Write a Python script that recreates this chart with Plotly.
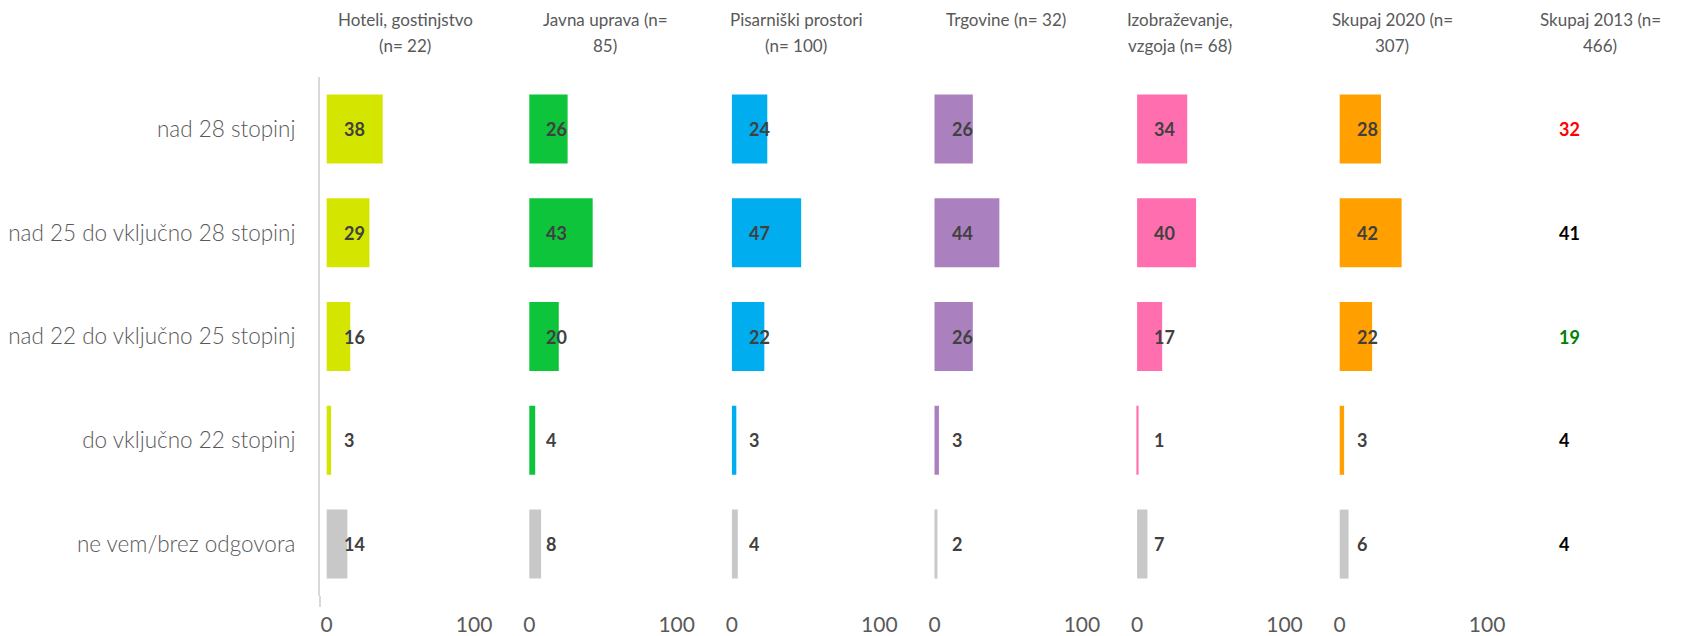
import plotly.graph_objects as go

# ---------------- data ----------------
categories = ["nad 28 stopinj", "nad 25 do vključno 28 stopinj",
              "nad 22 do vključno 25 stopinj", "do vključno 22 stopinj",
              "ne vem/brez odgovora"]

panel_titles = [
    ["Hoteli, gostinjstvo", "(n= 22)"],
    ["Javna uprava (n=", "85)"],
    ["Pisarniški prostori", "(n= 100)"],
    ["Trgovine (n= 32)", ""],
    ["Izobraževanje,", "vzgoja (n= 68)"],
    ["Skupaj 2020 (n=", "307)"],
    ["Skupaj 2013 (n=", "466)"],
]

hoteli = [38, 29, 16, 3, 14]
javna_uprava = [26, 43, 20, 4, 8]
pisarniski = [24, 47, 22, 3, 4]
trgovine = [26, 44, 26, 3, 2]
izobrazevanje = [34, 40, 17, 1, 7]
skupaj_2020 = [28, 42, 22, 3, 6]
skupaj_2013 = [32, 41, 19, 4, 4]

tick_vals = [0, 100]
tick_text = ["0", "100"]

# ---------------- styles ----------------
W, H = 1685, 636
panel_colors = ["#D4E600", "#0DC43B", "#00ADEE", "#AB80BF", "#FF6FAF", "#FF9F00"]
gray = "#C8C8C8"
label_2013_colors = ["#FF0000", "#000000", "#008000", "#000000", "#000000"]
FONT = "Lato, Carlito, Calibri, sans-serif"

series = [hoteli, javna_uprava, pisarniski, trgovine, izobrazevanje, skupaj_2020]

zero0 = 326.7      # px of value 0 in first panel
step = 202.6       # px between panels
ppu = 1.474        # px per unit
left_pad = 6.7     # px between axis line and zero
panel_w = 195.0
title_centers = [405, 605, 796, 1006, 1180, 1392, 1600]

top_px, bot_px = 77, 596
line_bottom_px = 607
ydom = [1 - bot_px / H, 1 - top_px / H]

fig = go.Figure()

for i in range(7):
    ax = "" if i == 0 else str(i + 1)
    left = zero0 + i * step - left_pad
    right = min(left + panel_w, W)
    xmin = -left_pad / ppu
    xmax = xmin + (right - left) / ppu
    if i < 6:
        vals = series[i]
        lab_cols = ["#404040"] * len(vals)
        colors = [panel_colors[i]] * 4 + [gray]
        fig.add_trace(go.Bar(
            x=vals, y=categories, orientation="h",
            marker=dict(color=colors, line=dict(width=0)),
            xaxis="x" + ax, yaxis="y", hoverinfo="x+y", showlegend=False,
        ))
    else:
        vals = skupaj_2013
        lab_cols = label_2013_colors
        # invisible anchor trace so the last panel's axis exists
        fig.add_trace(go.Scatter(
            x=[0] * len(vals), y=categories, mode="markers",
            marker=dict(size=1, opacity=0),
            xaxis="x" + ax, yaxis="y", showlegend=False, hoverinfo="skip",
        ))
    for cat, v, c in zip(categories, vals, lab_cols):
        fig.add_annotation(
            x=0, y=cat, xref="x" + ax, yref="y", text=f"<b>{v}</b>",
            showarrow=False, xanchor="left", yanchor="middle", xshift=15,
            font=dict(family=FONT, size=18, color=c),
        )
    axis = dict(
        domain=[left / W, right / W], range=[xmin, xmax],
        showgrid=False, zeroline=False, showline=False,
        tickvals=tick_vals if i < 6 else [], ticktext=tick_text if i < 6 else [],
        tickfont=dict(family=FONT, size=21, color="#595959"),
        ticklabelstandoff=14, anchor="y", fixedrange=True, automargin=False,
    )
    fig.layout["xaxis" + ax] = axis
    # panel titles
    for li, line in enumerate(panel_titles[i]):
        if line:
            fig.add_annotation(
                x=title_centers[i] / W, y=1 - (19.5 + li * 25.5) / H,
                xref="paper", yref="paper", text=line, showarrow=False,
                xanchor="center", yanchor="middle",
                font=dict(family=FONT, size=17, color="#595959"),
            )

# small extension of the vertical axis line below the last row (as in the original)
fig.add_shape(type="line", xref="paper", yref="paper",
              x0=(zero0 - left_pad) / W, x1=(zero0 - left_pad) / W,
              y0=1 - line_bottom_px / H, y1=ydom[0],
              line=dict(color="#D9D9D9", width=2))

fig.update_layout(
    width=W, height=H, margin=dict(l=0, r=0, t=0, b=0, autoexpand=False),
    paper_bgcolor="white", plot_bgcolor="white",
    bargap=0.335, showlegend=False,
    yaxis=dict(
        domain=ydom, categoryorder="array", categoryarray=categories,
        autorange="reversed", anchor="x", automargin=False,
        showline=True, linecolor="#D9D9D9", linewidth=2,
        showgrid=False, zeroline=False, ticks="",
        ticklabelstandoff=18,
        tickfont=dict(family=FONT, size=22.5, color="#595959", weight=300),
        fixedrange=True,
    ),
)

fig.write_html("out.html",
               config={"displayModeBar": False},
               post_script="document.body.style.margin='0';"
                           "document.body.style.overflow='hidden';")
